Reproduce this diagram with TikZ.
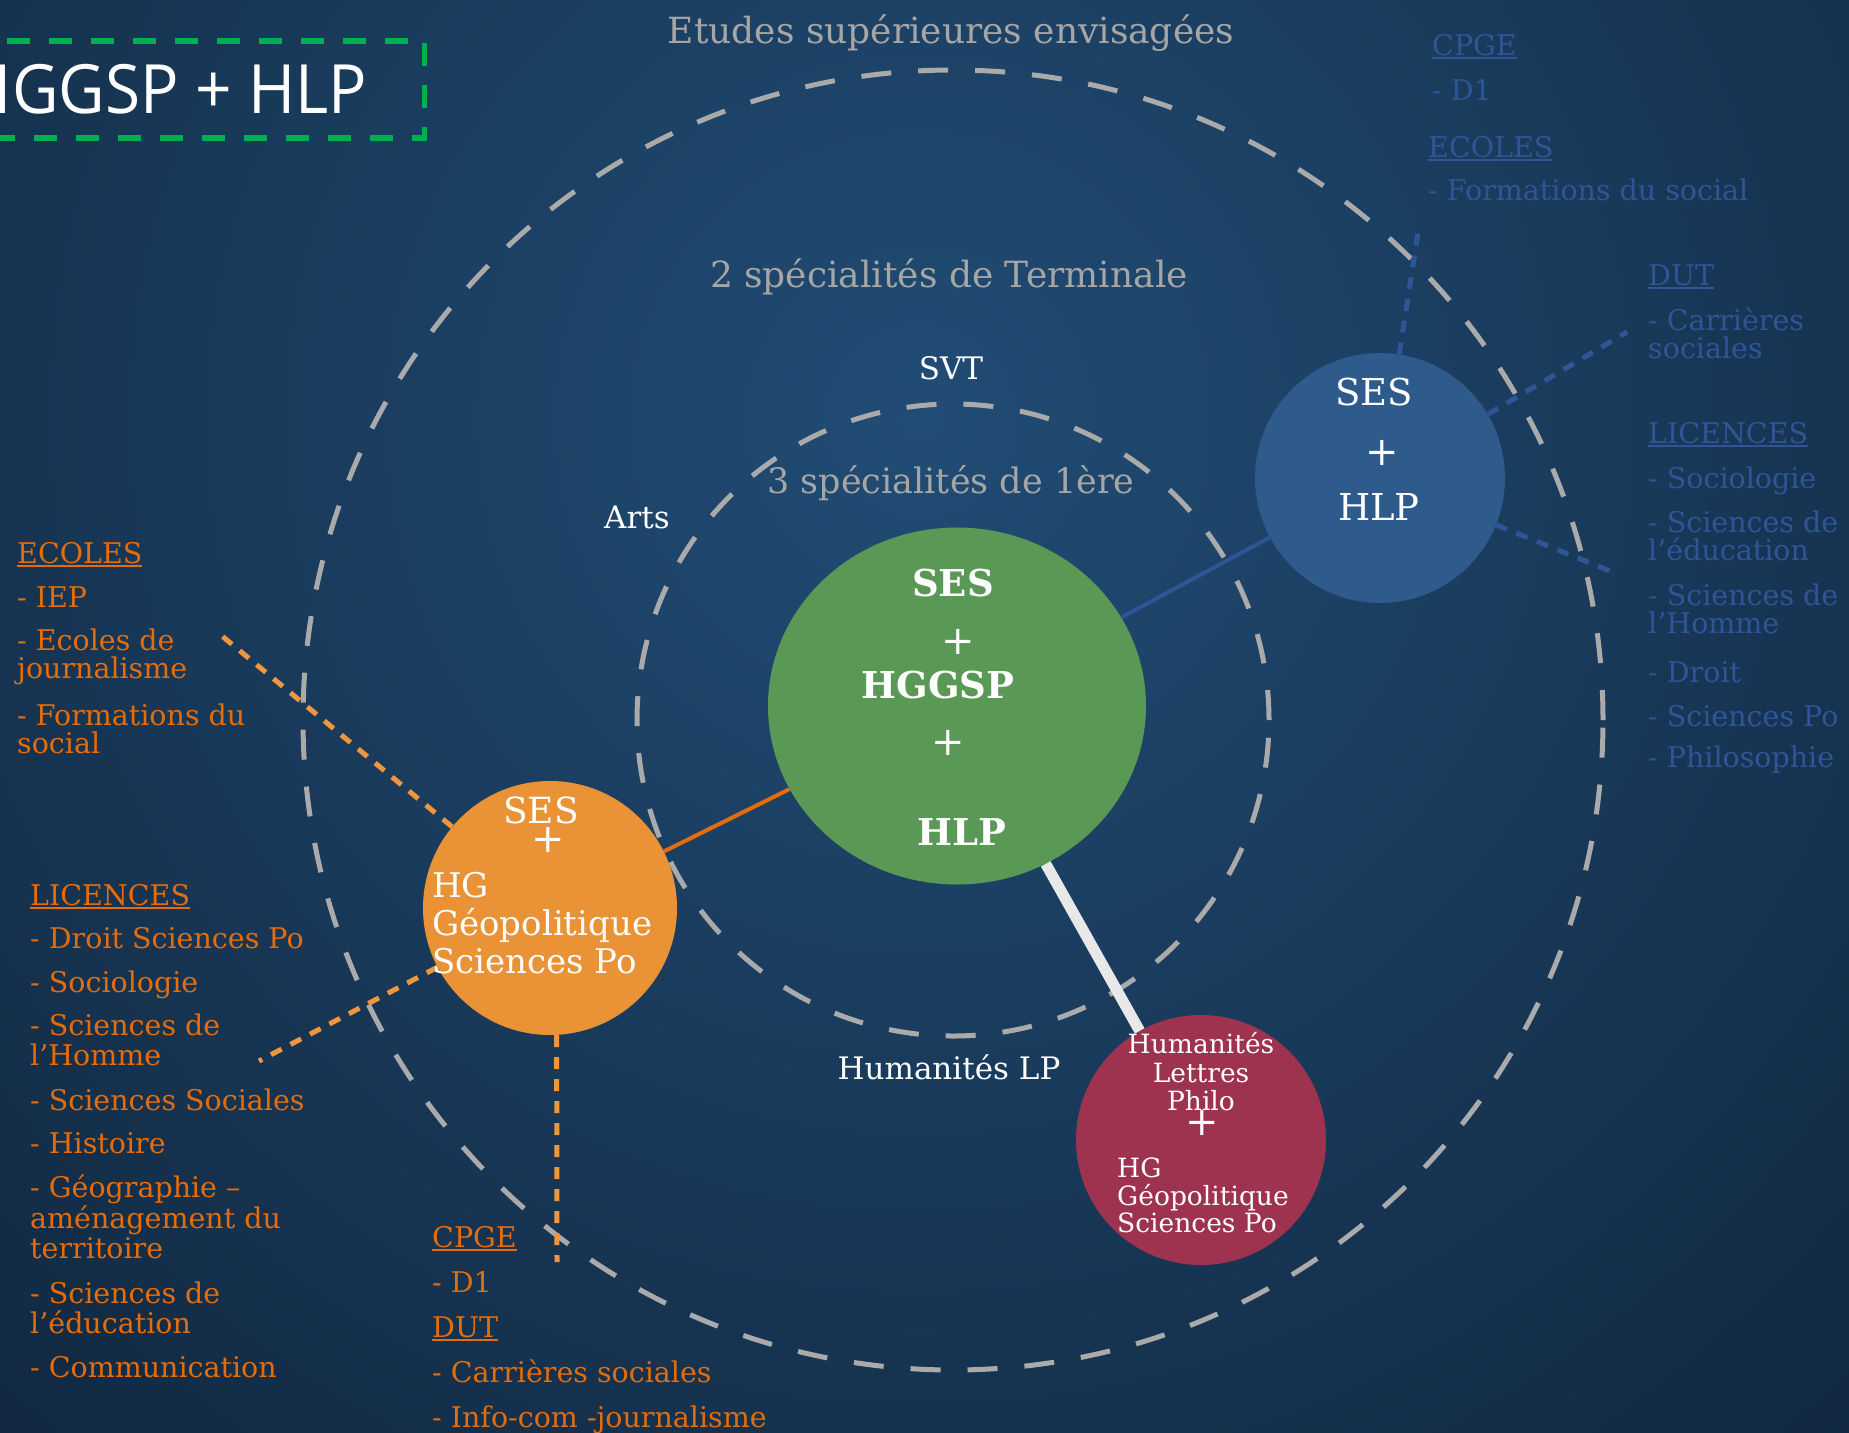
\documentclass[tikz,border=0pt]{standalone}
\usepackage{fontspec}
\setmainfont{DejaVu Serif}
\newfontfamily\titlefont{Open Sans}[FakeStretch=0.94]
\usetikzlibrary{shapes.geometric}

\definecolor{bgin}{RGB}{33,76,117}
\definecolor{bgout}{RGB}{10,24,40}
\definecolor{ringgray}{RGB}{170,170,170}
\definecolor{boxgreen}{RGB}{0,176,80}
\definecolor{fillgreen}{RGB}{90,152,85}
\definecolor{fillblue}{RGB}{46,90,140}
\definecolor{fillorange}{RGB}{234,146,54}
\definecolor{fillred}{RGB}{158,51,80}
\definecolor{txtorange}{RGB}{228,108,10}
\definecolor{dotorange}{RGB}{240,150,60}
\definecolor{txtblue}{RGB}{47,85,151}
\definecolor{txtgray}{RGB}{166,166,166}
\definecolor{linkwhite}{RGB}{232,232,232}

\newcommand{\fsz}[1]{\fontsize{#1}{#1}\selectfont}
\newcommand{\undl}[1]{\setbox0\hbox{#1}\rlap{\rule[-4pt]{\wd0}{1.8pt}}\box0}

\tikzset{
  ring/.style={draw=ringgray, line width=5pt, dash pattern=on 30pt off 27pt},
  spe/.style={circle, inner sep=0pt, minimum size=#1},
  titlebox/.style={draw=boxgreen, line width=5.5pt, dash pattern=on 23pt off 19pt,
    text=white, font=\titlefont\fsz{68}, inner xsep=57pt, minimum height=97pt},
  head/.style={anchor=base, inner sep=0pt, text=txtgray, font=\fsz{36}},
  wlbl/.style={anchor=base, inner sep=0pt, text=white, font=\fsz{31}},
  plus/.style={inner sep=0pt, text=white, font=\fsz{40}},
  lst/.style={anchor=base west, inner sep=0pt, font=\fsz{28.5}},
  olst/.style={lst, text=txtorange},
  blst/.style={lst, text=txtblue},
  dotlink/.style={line width=5pt, dash pattern=on 12pt off 10pt},
}

\begin{document}
\begin{tikzpicture}[x=1pt, y=-1pt]
\useasboundingbox (0,0) rectangle (1849,1432);
\clip (0,0) rectangle (1849,1432);
% background
\fill[bgout] (0,0) rectangle (1849,1432);
\shade[inner color=bgin, outer color=bgout] (920,420) circle (2000pt);

% rings
\draw[ring] (953,720) circle (650pt);
\draw[ring] (953,720) circle (316pt);

% choices
\node[ellipse, fill=fillgreen, inner sep=0pt, minimum width=378pt, minimum height=357pt] (green) at (957,706) {};
\node[spe=250pt, fill=fillblue] (blue) at (1380,478) {};
\node[spe=254pt, fill=fillorange] (orange) at (550,908) {};
\node[spe=250pt, fill=fillred] (red) at (1201,1140) {};

% links
\draw[txtorange, line width=4pt] (orange) -- (green);
\draw[txtblue, line width=4pt] (blue) -- (green);
\draw[linkwhite, line width=11pt] (green) -- (red);

\coordinate (oEcoles) at (216,631);
\coordinate (oLic) at (259,1061);
\coordinate (oCpge) at (557,1262);
\coordinate (bCpge) at (1418,233);
\coordinate (bDut) at (1627,332);
\coordinate (bLic) at (1615,573);
\draw[dotlink, dotorange] (orange) -- (oEcoles);
\draw[dotlink, dotorange] (orange) -- (oLic);
\draw[dotlink, dotorange] (orange.-87) -- (oCpge);
\draw[dotlink, txtblue] (blue) -- (bCpge);
\draw[dotlink, txtblue] (blue) -- (bDut);
\draw[dotlink, txtblue] (blue) -- (bLic);

% title
\node[titlebox, anchor=east] (title) at (427,89.5) {HGGSP + HLP};

% headings
\node[head] (etudes) at (951,43) {Etudes supérieures envisagées};
\node[head] (term) at (949,287) {2 spécialités de Terminale};
\node[head, font=\fsz{35}] (prem) at (951,493) {3 spécialités de 1ère};
\node[wlbl] (svt) at (951,379) {SVT};
\node[wlbl] (arts) at (637,528) {Arts};
\node[wlbl] (hlp) at (949,1079) {Humanités LP};

% green
\node[anchor=base, text=white, font=\bfseries\fsz{37}] (g1) at (953,596) {SES};
\node[plus] (g2) at (958,642) {+};
\node[anchor=base, text=white, font=\bfseries\fsz{37}] (g3) at (938,698) {HGGSP};
\node[plus] (g4) at (948,743) {+};
\node[anchor=base, text=white, font=\bfseries\fsz{37}] (g5) at (962,845) {HLP};

% blue
\node[anchor=base, text=white, font=\fsz{37}] (b1) at (1374,405) {SES};
\node[plus] (b2) at (1382,453) {+};
\node[anchor=base, text=white, font=\fsz{37}] (b3) at (1379,520) {HLP};

% orange
\node[anchor=base, text=white, font=\fsz{36}] (o1) at (541,823) {SES};
\node[plus] (o2) at (548,840) {+};
\node[anchor=base west, inner sep=0pt, text=white, font=\fsz{34}] (o3) at (432,897) {HG};
\node[anchor=base west, inner sep=0pt, text=white, font=\fsz{34}] (o4) at (432,935) {Géopolitique};
\node[anchor=base west, inner sep=0pt, text=white, font=\fsz{34}] (o5) at (432,973) {Sciences Po};

% red
\node[anchor=base, text=white, font=\fsz{26.5}] (r1) at (1201,1053) {Humanités};
\node[anchor=base, text=white, font=\fsz{26.5}] (r2) at (1201,1082) {Lettres};
\node[anchor=base, text=white, font=\fsz{26.5}] (r3) at (1201,1110) {Philo};
\node[plus] (r4) at (1202,1123) {+};
\node[anchor=base west, inner sep=0pt, text=white, font=\fsz{26.5}] (r5) at (1117,1177) {HG};
\node[anchor=base west, inner sep=0pt, text=white, font=\fsz{26.5}] (r6) at (1117,1205) {Géopolitique};
\node[anchor=base west, inner sep=0pt, text=white, font=\fsz{26.5}] (r7) at (1117,1232) {Sciences Po};

% right list
\node[blst] (bl1) at (1432,55) {\undl{CPGE}};
\node[blst] (bl2) at (1432,100) {- D1};
\node[blst] (bl3) at (1428,157) {\undl{ECOLES}};
\node[blst] (bl4) at (1428,200) {- Formations du social};
\node[blst] (bl5) at (1648,285) {\undl{DUT}};
\node[blst] (bl6) at (1648,330) {- Carrières};
\node[blst] (bl7) at (1648,358) {sociales};
\node[blst] (bl8) at (1648,443) {\undl{LICENCES}};
\node[blst] (bl9) at (1648,488) {- Sociologie};
\node[blst] (bl10) at (1648,532) {- Sciences de};
\node[blst] (bl11) at (1648,560) {l’éducation};
\node[blst] (bl12) at (1648,605) {- Sciences de};
\node[blst] (bl13) at (1648,633) {l’Homme};
\node[blst] (bl14) at (1648,682) {- Droit};
\node[blst] (bl15) at (1648,726) {- Sciences Po};
\node[blst] (bl16) at (1648,767) {- Philosophie};

% left list
\node[olst] (ol1) at (17,563) {\undl{ECOLES}};
\node[olst] (ol2) at (17,607) {- IEP};
\node[olst] (ol3) at (17,650) {- Ecoles de};
\node[olst] (ol4) at (17,678) {journalisme};
\node[olst] (ol5) at (17,725) {- Formations du};
\node[olst] (ol6) at (17,753) {social};
\node[olst] (ol7) at (30,905) {\undl{LICENCES}};
\node[olst] (ol8) at (30,948) {- Droit Sciences Po};
\node[olst] (ol9) at (30,992) {- Sociologie};
\node[olst] (ol10) at (30,1035) {- Sciences de};
\node[olst] (ol11) at (30,1065) {l’Homme};
\node[olst] (ol12) at (30,1110) {- Sciences Sociales};
\node[olst] (ol13) at (30,1153) {- Histoire};
\node[olst] (ol14) at (30,1197) {- Géographie –};
\node[olst] (ol15) at (30,1228) {aménagement du};
\node[olst] (ol16) at (30,1258) {territoire};
\node[olst] (ol17) at (30,1303) {- Sciences de};
\node[olst] (ol18) at (30,1333) {l’éducation};
\node[olst] (ol19) at (30,1377) {- Communication};

% bottom list
\node[olst] (ob1) at (432,1247) {\undl{CPGE}};
\node[olst] (ob2) at (432,1292) {- D1};
\node[olst] (ob3) at (432,1337) {\undl{DUT}};
\node[olst] (ob4) at (432,1382) {- Carrières sociales};
\node[olst] (ob5) at (432,1427) {- Info-com -journalisme};
\end{tikzpicture}
\end{document}
